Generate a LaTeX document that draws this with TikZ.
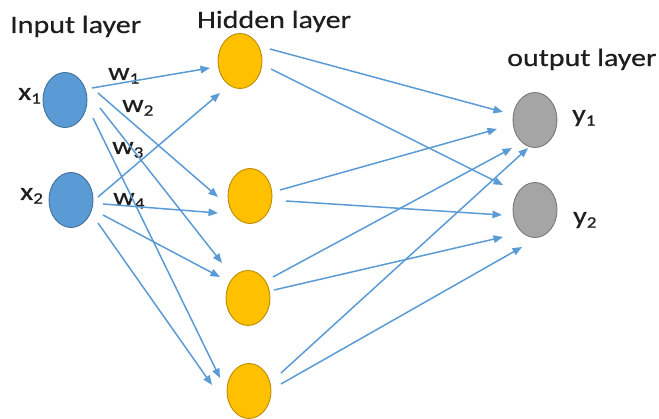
\documentclass[tikz,border=0pt]{standalone}
\usepackage{fontspec}
\setmainfont{Carlito}
\newfontfamily\lblfont[FakeStretch=1.2,FakeBold=0.5]{Carlito}
\usetikzlibrary{arrows.meta,shapes.geometric}

\definecolor{edgeblue}{RGB}{91,155,213}
\definecolor{inFill}{RGB}{91,155,213}
\definecolor{inLine}{RGB}{65,113,156}
\definecolor{hidFill}{RGB}{255,192,0}
\definecolor{hidLine}{RGB}{188,140,0}
\definecolor{outFill}{RGB}{165,165,165}
\definecolor{outLine}{RGB}{120,120,120}
\definecolor{txt}{RGB}{30,30,30}

% lowered, smaller index digit
\newcommand\lsub[1]{\raisebox{-0.15em}{\fontsize{16}{16}\selectfont #1}}

\begin{document}
\begin{tikzpicture}[x=1pt,y=-1pt,
  neuron/.style={ellipse, minimum width=44pt, minimum height=55pt, inner sep=0pt, line width=0.9pt},
  innode/.style={neuron, fill=inFill, draw=inLine},
  hidnode/.style={neuron, fill=hidFill, draw=hidLine},
  outnode/.style={neuron, fill=outFill, draw=outLine},
  conn/.style={draw=edgeblue, line width=1.5pt, -{Triangle[length=9.5pt,width=7.5pt]}},
  lbl/.style={font=\lblfont\fontsize{25}{30}\selectfont, text=txt, inner sep=0pt, anchor=base west}]

\path[use as bounding box] (0,0) rectangle (659,419);

% neurons
\node[innode] (x1) at (65,100) {};
\node[innode] (x2) at (71,200) {};
\node[hidnode] (h1) at (240,61) {};
\node[hidnode] (h2) at (250,196) {};
\node[hidnode] (h3) at (248,298) {};
\node[hidnode] (h4) at (249,391) {};
\node[outnode] (y1) at (535,120) {};
\node[outnode] (y2) at (535,210) {};

% layer titles
\node[lbl] (tin)  at (10,33)  {Input layer};
\node[lbl] (thid) at (197,28) {Hidden layer};
\node[lbl] (tout) at (507,66) {output layer};

% neuron names
\node[lbl] (lx1) at (18,100) {x\lsub{1}};
\node[lbl] (lx2) at (20,200) {x\lsub{2}};
\node[lbl] (ly1) at (572,122) {y\lsub{1}};
\node[lbl] (ly2) at (573,224) {y\lsub{2}};

% weights
\node[lbl] (w1) at (108,80)  {w\lsub{1}};
\node[lbl] (w2) at (122,112) {w\lsub{2}};
\node[lbl] (w3) at (112,154) {w\lsub{3}};
\node[lbl] (w4) at (113,205) {w\lsub{4}};

% input -> hidden
\draw[conn] ([shift={(27,-12)}]x1.center) -- ([shift={(-30,7)}]h1.center);
\draw[conn] ([shift={(33,-7)}]x1.center)  -- ([shift={(-32,1)}]h2.center);
\draw[conn] ([shift={(35,8)}]x1.center)   -- ([shift={(-26,-35)}]h3.center);
\draw[conn] ([shift={(28,18)}]x1.center)  -- ([shift={(-29,-13)}]h4.center);
\draw[conn] ([shift={(27,-3)}]x2.center)  -- ([shift={(-20,32)}]h1.center);
\draw[conn] ([shift={(32,4)}]x2.center)   -- ([shift={(-32,17)}]h2.center);
\draw[conn] ([shift={(32,15)}]x2.center)  -- ([shift={(-28,-21)}]h3.center);
\draw[conn] ([shift={(27,23)}]x2.center)  -- ([shift={(-37,-6)}]h4.center);

% hidden -> output
\draw[conn] ([shift={(30,-12)}]h1.center) -- ([shift={(-32,-8)}]y1.center);
\draw[conn] ([shift={(31,8)}]h1.center)   -- ([shift={(-32,-25)}]y2.center);
\draw[conn] ([shift={(30,-6)}]h2.center)  -- ([shift={(-38,9)}]y1.center);
\draw[conn] ([shift={(36,5)}]h2.center)   -- ([shift={(-33,5)}]y2.center);
\draw[conn] ([shift={(25,-21)}]h3.center) -- ([shift={(-23,28)}]y1.center);
\draw[conn] ([shift={(26,-8)}]h3.center)  -- ([shift={(-32,27)}]y2.center);
\draw[conn] ([shift={(32,-18)}]h4.center) -- ([shift={(-7,28)}]y1.center);
\draw[conn] ([shift={(32,-7)}]h4.center)  -- ([shift={(-13,37)}]y2.center);
\end{tikzpicture}
\end{document}
